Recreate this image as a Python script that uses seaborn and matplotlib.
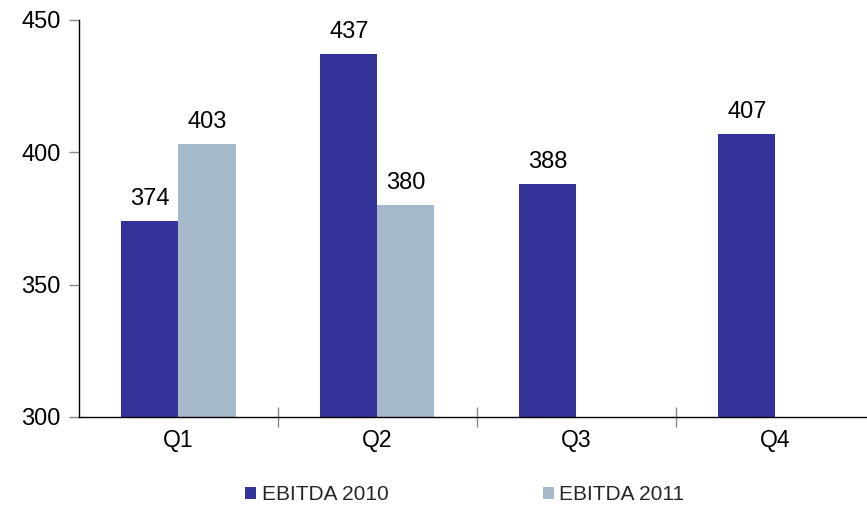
import matplotlib
matplotlib.use("Agg")
import matplotlib.pyplot as plt
import seaborn as sns
import pandas as pd
import numpy as np

quarters = ["Q1", "Q2", "Q3", "Q4"]
ebitda_2010 = [374, 437, 388, 407]
ebitda_2011 = [403, 380, np.nan, np.nan]
series_names = ["EBITDA 2010", "EBITDA 2011"]
colors = ["#333399", "#A6B9CB"]

sns.set_theme(style="white")
plt.rcParams["font.family"] = ["Liberation Sans", "DejaVu Sans"]

df = pd.DataFrame({
    "Quarter": quarters * 2,
    "Value": ebitda_2010 + ebitda_2011,
    "Series": [series_names[0]] * 4 + [series_names[1]] * 4,
}).dropna()

fig = plt.figure(figsize=(8.67, 5.08), dpi=100)
ax = fig.add_axes([79 / 867, 1 - 417 / 508, 1 - 79 / 867, (417 - 20) / 508])

sns.barplot(data=df, x="Quarter", y="Value", hue="Series", order=quarters,
            hue_order=series_names, palette=colors, width=0.573, gap=0,
            saturation=1, linewidth=0, ax=ax, legend=True)

for c in ax.containers:
    ax.bar_label(c, fmt="%d", padding=8, fontsize=17, color="black")

ax.set_ylim(300, 450)
ax.set_yticks([300, 350, 400, 450])
ax.set_xlim(-0.5, 3.46)
ax.set_xlabel("")
ax.set_ylabel("")

for s in ["top", "right"]:
    ax.spines[s].set_visible(False)
for s in ["left", "bottom"]:
    ax.spines[s].set_color("black")
    ax.spines[s].set_linewidth(1.0)

ax.tick_params(axis="y", which="major", direction="out", length=7, width=1,
               color="#888888", labelsize=17, labelcolor="black", left=True, pad=6)
ax.tick_params(axis="x", which="major", length=0, labelsize=16.5, labelcolor="black", pad=9)
ax.set_xticks([0.5, 1.5, 2.5], minor=True)
ax.tick_params(axis="x", which="minor", direction="inout", length=14, width=1,
               color="#888888", bottom=True)

leg = ax.legend(loc="center", bbox_to_anchor=(0.536, 0.026),
                bbox_transform=fig.transFigure, ncol=2, frameon=False,
                fontsize=15, handlelength=0.55, handleheight=0.55,
                handletextpad=0.25, columnspacing=7.4)

fig.savefig("out.png", dpi=100)
